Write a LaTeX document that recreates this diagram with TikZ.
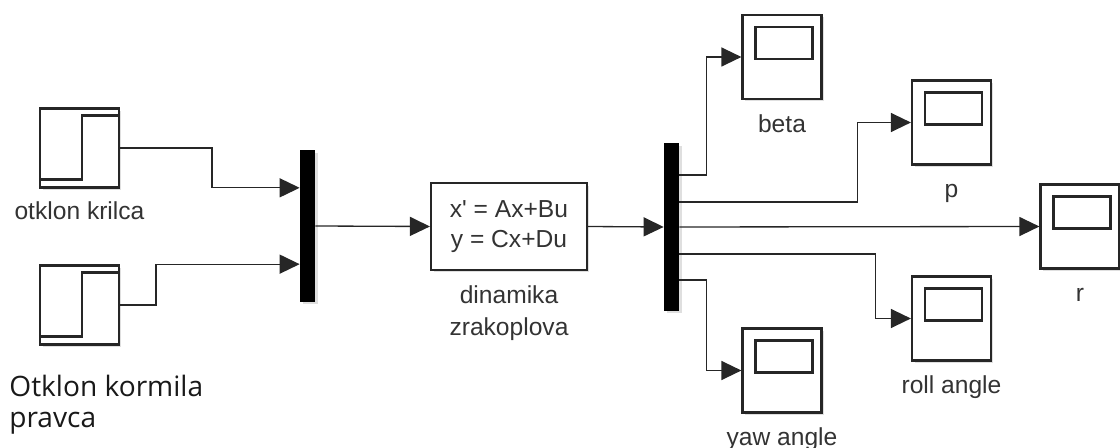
\documentclass[tikz,border=0pt]{standalone}
\usepackage{fontspec}
\newfontfamily\simfont{Liberation Sans}
\newfontfamily\notefont{Open Sans}
\usetikzlibrary{positioning,calc,arrows.meta,shadows}

\begin{document}
\begin{tikzpicture}[x=0.02cm, y=-0.02cm,
		>={Triangle[length=0.4cm,width=0.38cm]},
		wire/.style={draw=black!85, line width=0.75pt},
		simblock/.style={
			rectangle,
			draw=black!85, line width=1.25pt,
			fill=white,
			drop shadow={shadow xshift=0.05cm, shadow yshift=-0.05cm, opacity=0.25}
		},
		stepbox/.style={
			simblock,
			minimum width=1.58cm,
			minimum height=1.58cm,
			path picture={
				\draw [black!85, line width=1.25pt]
					([yshift=0.16cm]path picture bounding box.south west)
					-- ([xshift=0.84cm,yshift=0.16cm]path picture bounding box.south west)
					|- ([yshift=-0.14cm]path picture bounding box.north east);
			}
		},
		scopebox/.style={
			simblock,
			minimum width=1.58cm,
			minimum height=1.68cm,
			path picture={
				\draw [black!85, line width=1.25pt]
					([xshift=0.26cm,yshift=-0.24cm]path picture bounding box.north west)
					rectangle ([xshift=-0.18cm,yshift=-0.88cm]path picture bounding box.north east);
			}
		},
		muxbar/.style={
			rectangle,
			fill=black, draw=none,
			minimum width=0.3cm,
			drop shadow={shadow xshift=0.05cm, shadow yshift=-0.05cm, opacity=0.25}
		},
		lbl/.style={
			font=\simfont\fontsize{14pt}{18.2pt}\selectfont,
			text=black!80,
			inner sep=0pt,
			anchor=base,
			align=center
		}]

	\useasboundingbox (0,0) rectangle (1120,448);

	% Step inputs
	\node [stepbox] (stepA) at (79.5,148) {};
	\node [stepbox] (stepB) at (79.5,305) {};
	\node [lbl] (stepAlabel) at ([yshift=-0.62cm]stepA.south) {otklon krilca};
	% (base of a two-line node is its last line)
	\node [font=\notefont\fontsize{16pt}{18.2pt}\selectfont, text=black!90, inner sep=0pt,
		anchor=base west, align=left] (stepBlabel) at (9,428) {Otklon kormila\\pravca};

	% Mux and state-space block
	\node [muxbar, minimum height=3.04cm] (muxA) at (307.5,226) {};
	\node [simblock, minimum width=3.12cm, minimum height=1.74cm, align=center,
		font=\simfont\fontsize{14pt}{17pt}\selectfont, text=black!80] (plant) at (509,226.5)
		{x' = Ax+Bu\\y = Cx+Du};
	\node [lbl] (plantlabel) at ([yshift=-1.28cm]plant.south) {dinamika\\zrakoplova};

	% Demux
	\node [muxbar, minimum height=3.36cm] (muxB) at (671.5,227) {};

	% Scopes
	\node [scopebox] (scopeBeta) at (782,57) {};
	\node [scopebox] (scopeP) at (951.5,122.5) {};
	\node [scopebox] (scopeR) at (1080,226.5) {};
	\node [scopebox] (scopeRoll) at (951.5,318.5) {};
	\node [scopebox] (scopeYaw) at (782,370.5) {};
	\foreach \s/\t in {Beta/beta, P/p, R/r, Roll/roll angle, Yaw/yaw angle}
		\node [lbl] (scope\s label) at ([yshift=-0.64cm]scope\s.south) {\t};

	% Mux ports
	\coordinate (muxAin1) at ($(muxA.north west)!0.25!(muxA.south west)$);
	\coordinate (muxAin2) at ($(muxA.north west)!0.75!(muxA.south west)$);
	\coordinate (muxBout1) at ([yshift=1.04cm]muxB.east);
	\coordinate (muxBout2) at ([yshift=0.5cm]muxB.east);
	\coordinate (muxBout3) at (muxB.east);
	\coordinate (muxBout4) at ([yshift=-0.54cm]muxB.east);
	\coordinate (muxBout5) at ([yshift=-1.06cm]muxB.east);

	% Signal lines
	\draw [wire, ->] (stepA.east) -- ++(92,0) |- (muxAin1);
	\draw [wire, ->] (stepB.east) -- ++(36,0) |- (muxAin2);
	\draw [wire, ->] (muxA.east) -- (plant.west);
	\draw [wire, ->] (plant.east) -- (muxB.west);
	\draw [wire, ->] (muxBout1) -- ++(27,0) |- (scopeBeta.west);
	\draw [wire, ->] (muxBout2) -- ++(178,0) |- (scopeP.west);
	\draw [wire, ->] (muxBout3) -- (scopeR.west);
	\draw [wire, ->] (muxBout4) -- ++(196,0) |- (scopeRoll.west);
	\draw [wire, ->] (muxBout5) -- ++(27,0) |- (scopeYaw.west);
\end{tikzpicture}
\end{document}
